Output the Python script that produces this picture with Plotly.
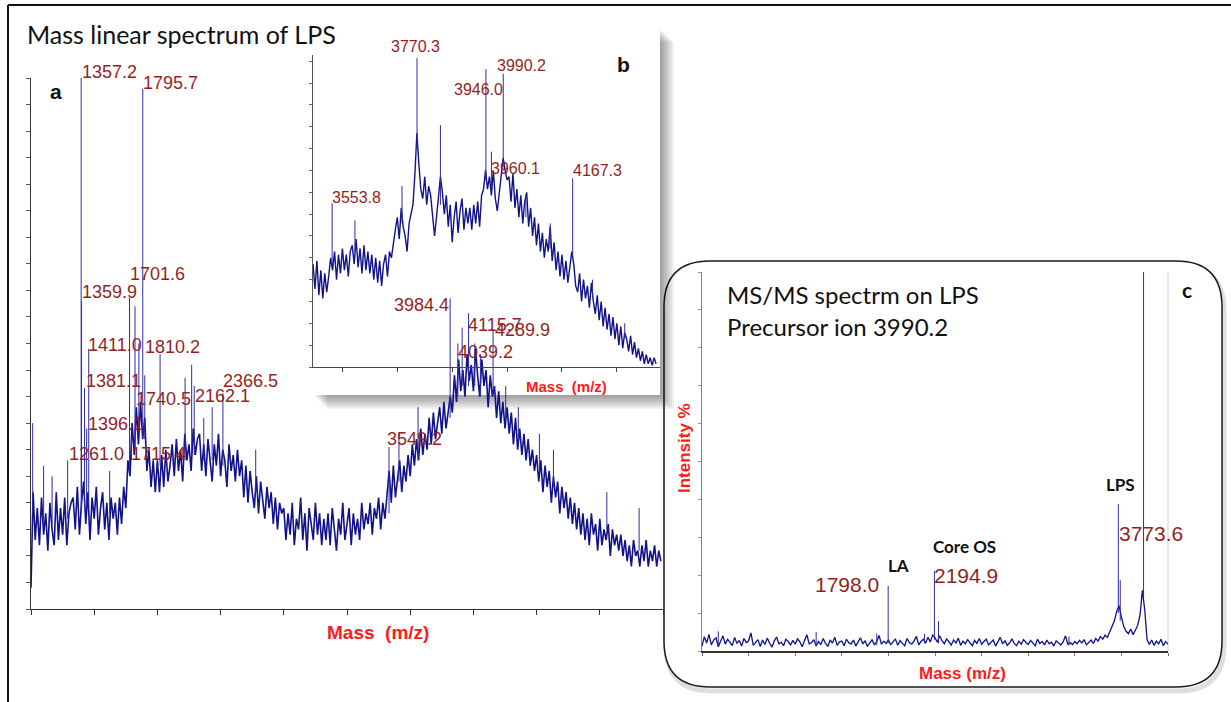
import plotly.graph_objects as go

W, H = 1231, 702

# ---------------- Panel a: linear-mode MS of LPS ----------------
A_MZ_START, A_MZ_STEP = 1000, 15
A_INTENSITY = [
    4, 22, 13, 19, 12, 21, 14, 18, 11, 20, 15, 12, 22, 13, 19, 14, 21, 12, 18, 20,
    21, 15, 23, 14, 20, 24, 16, 22, 13, 21, 17, 23, 14, 19, 22, 15, 20, 13, 21, 17,
    20, 14, 21, 16, 23, 19, 28, 25, 35, 29, 38, 31, 39, 32, 36, 26, 30, 23, 28, 22,
    28, 22, 29, 23, 30, 24, 27, 31, 25, 32, 26, 30, 24, 33, 28, 31, 26, 34, 29, 32,
    33, 26, 31, 25, 32, 28, 24, 31, 27, 33, 25, 30, 28, 23, 31, 26, 29, 24, 30, 25,
    28, 21, 27, 20, 26, 22, 19, 25, 18, 24, 21, 17, 23, 19, 22, 16, 21, 15, 20, 18,
    19, 13, 18, 14, 20, 12, 17, 15, 21, 13, 18, 11, 19, 16, 13, 20, 14, 18, 12, 17,
    13, 18, 12, 19, 15, 11, 17, 14, 20, 13, 16, 19, 12, 18, 14, 17, 13, 20, 15, 18,
    16, 20, 14, 19, 17, 21, 15, 20, 17, 22, 26, 20, 27, 21, 25, 28, 22, 27, 24, 29,
    25, 31, 27, 32, 28, 34, 29, 33, 30, 36, 31, 37, 32, 35, 38, 33, 39, 34, 37, 40,
    37, 44, 39, 47, 41, 45, 40, 48, 43, 46, 41, 49, 44, 40, 47, 42, 45, 38, 44, 40,
    42, 36, 41, 35, 39, 34, 38, 33, 37, 31, 36, 30, 34, 29, 33, 28, 32, 27, 30, 26,
    29, 24, 28, 22, 27, 23, 26, 20, 25, 21, 24, 18, 23, 19, 22, 17, 21, 16, 20, 15,
    19, 14, 18, 13, 17, 12, 18, 14, 16, 11, 17, 12, 15, 13, 16, 10, 15, 12, 14, 11,
    14, 10, 13, 9, 12, 8, 13, 10, 11, 8, 12, 9, 13, 8, 11, 9, 12, 8, 11, 9,
]
A_PEAK_MZ = [1012, 1090, 1150, 1261.0, 1357.2, 1359.9, 1381.1, 1396.1, 1411.0, 1560,
             1701.6, 1715.4, 1740.5, 1768, 1795.7, 1810.2, 1919, 2097, 2144, 2162.1,
             2230, 2290, 2366.5, 2600, 3549.2, 3620, 3756, 3984.4, 4039.2, 4070,
             4115.7, 4160, 4200, 4289.9, 4380, 4470, 4620, 4720, 5100, 5330]
A_PEAK_TOP = [35, 27, 25, 28, 100, 58, 41.6, 34, 49, 26,
              58.6, 32, 57, 50, 98, 44, 48, 43.5, 46, 42,
              36, 38, 40.7, 30, 30.5, 33, 38, 58.5, 50, 53,
              55.7, 50, 48, 52.5, 42, 38, 33, 30, 22, 19]
A_PEAK_FOOT = [18, 16, 16, 17, 18, 19, 19, 19, 19, 18,
               26, 28, 30, 33, 32, 32, 27, 28, 29, 29,
               28, 28, 27, 22, 18, 24, 28, 36, 40, 42,
               42, 42, 40, 40, 36, 32, 26, 23, 15, 11]
A_LABELED = [1261.0, 1357.2, 1359.9, 1381.1, 1396.1, 1411.0, 1701.6, 1715.4, 1740.5,
             1795.7, 1810.2, 2162.1, 2366.5, 3549.2, 3984.4, 4039.2, 4115.7, 4289.9]

# ---------------- Panel b: zoom on the LPS region ----------------
B_MZ_START, B_MZ_STEP = 3505, 5
B_INTENSITY = [
    33, 25, 34, 23, 31, 22, 30, 24, 29, 35, 31, 37, 28, 36, 30, 38, 31, 36, 29, 37,
    39, 33, 41, 32, 38, 30, 39, 31, 37, 30, 36, 28, 35, 27, 34, 26, 33, 36, 29, 37,
    35, 40, 44, 48, 41, 51, 45, 42, 37, 46, 49, 52, 62, 75, 65, 57, 54, 61, 52, 58,
    55, 47, 42, 48, 54, 61, 56, 49, 55, 45, 52, 40, 48, 53, 43, 50, 54, 44, 51, 46,
    51, 44, 52, 46, 53, 45, 55, 57, 63, 57, 61, 55, 63, 54, 50, 56, 61, 67, 63, 60,
    61, 53, 62, 51, 57, 48, 55, 46, 53, 56, 45, 51, 42, 48, 39, 46, 37, 43, 35, 41,
    37, 45, 34, 40, 31, 37, 29, 36, 28, 34, 27, 33, 37, 33, 26, 24, 30, 21, 28, 22,
    26, 19, 27, 21, 17, 23, 15, 21, 13, 19, 12, 17, 10, 16, 9, 14, 7, 13, 6, 11,
    9, 5, 10, 4, 8, 3, 6, 2, 5, 1, 4, 1, 3, 0.5, 3, 1,
]
B_PEAK_MZ = [3553.8, 3612, 3732, 3770.3, 3830, 3946.0, 3960.1, 3990.2, 4048, 4110,
             4167.3, 4218, 4300]
B_PEAK_TOP = [52.5, 47, 58, 99, 77.5, 95.5, 69, 94, 55, 46, 60.5, 28, 14]
B_PEAK_FOOT = [33, 37, 46, 70, 52, 60, 58, 64, 48, 38, 35, 22, 9]
B_LABELED = [3553.8, 3770.3, 3946.0, 3960.1, 3990.2, 4167.3]

# ---------------- Panel c: MS/MS of precursor 3990.2 ----------------
C_MZ_START, C_MZ_STEP = 200, 20
C_INTENSITY = [
    1.2, 3.8, 2.1, 4.4, 1.6, 2.9, 3.5, 1.1, 2.6, 4.0, 1.8, 3.1, 2.3, 1.4, 3.6, 2.0, 2.8, 1.3, 3.3, 2.2,
    2.7, 4.8, 1.5, 2.4, 3.0, 1.2, 2.9, 1.7, 3.4, 2.1, 1.0, 2.6, 3.7, 1.9, 2.3, 1.4, 3.1, 2.5, 1.6, 2.8,
    1.8, 3.2, 2.4, 1.1, 2.7, 4.3, 1.9, 2.2, 3.0, 1.3, 2.5, 1.7, 3.3, 2.0, 1.2, 2.9, 2.1, 3.6, 1.5, 2.4,
    2.6, 1.4, 3.1, 2.2, 1.8, 2.9, 1.3, 2.4, 3.5, 1.9, 2.7, 1.2, 2.3, 3.0, 1.6, 2.5, 4.1, 1.8, 2.6, 2.0,
    2.9, 1.7, 2.4, 3.2, 1.5, 2.8, 2.0, 1.4, 3.3, 2.2, 1.8, 2.6, 3.9, 1.6, 2.5, 3.1, 2.1, 3.6, 2.4, 4.2,
    3.5, 2.3, 4.0, 2.7, 1.9, 3.2, 2.4, 1.6, 2.9, 2.1, 3.4, 1.5, 2.6, 1.9, 3.0, 2.3, 1.4, 2.8, 2.0, 3.3,
    1.8, 2.5, 3.1, 1.6, 2.2, 2.9, 1.3, 2.4, 3.6, 1.9, 2.7, 1.5, 2.1, 3.2, 2.0, 1.4, 2.6, 1.8, 3.0, 2.3,
    1.7, 2.8, 2.2, 1.4, 3.1, 2.0, 2.5, 1.6, 2.9, 1.9, 2.3, 1.3, 2.7, 2.0, 1.6, 2.4, 4.0, 1.8, 2.2, 1.7,
    2.5, 1.9, 2.8, 2.1, 3.0, 1.6, 2.4, 2.9, 2.0, 3.3, 2.6, 3.8, 3.1, 4.2, 3.6, 5.0, 6.3, 8.0, 10.5, 12.0,
    9.0, 6.5, 5.2, 4.6, 5.8, 4.3, 5.5, 6.8, 9.5, 16.0, 11.0, 3.0, 1.7, 2.9, 1.5, 2.6, 1.9, 3.1, 1.4, 2.5,
    1.8,
]
C_PEAK_MZ = [340, 1180, 1700, 1798.0, 2110, 2194.9, 2230, 3350, 3773.6, 3790, 3990.2]
C_PEAK_TOP = [5.2, 5.0, 4.6, 17.2, 4.5, 21.1, 7.9, 3.8, 38.8, 18.7, 100]
C_PEAK_FOOT = [1.5, 1.5, 1.5, 2.0, 2.0, 3.0, 2.0, 1.5, 10.0, 8.0, 14.0]
C_LABELED = [1798.0, 2194.9, 3773.6]
C_NAMES = {1798.0: "LA", 2194.9: "Core OS", 3773.6: "LPS"}

# ---------------- styling ----------------
SPEC_COLOR = "#12128a"
PEAK_COLOR = "#2c2ca8"
LABEL_RED = "#951f1f"
AXIS_RED = "#ff1a1a"

# label placement: (xanchor, xshift px, yshift px) relative to the peak apex
A_LABEL_POS = {
    1261.0: ("left", 1, 6), 1357.2: ("left", 1, 6), 1359.9: ("left", 0, 9),
    1381.1: ("left", 1, 7), 1396.1: ("left", 1, 4), 1411.0: ("left", -1, 4),
    1701.6: ("left", 0, 24), 1715.4: ("left", 0, -15), 1740.5: ("left", 1, -93),
    1795.7: ("left", 0, 6), 1810.2: ("left", 0, 28), 2162.1: ("left", 1, -10),
    2366.5: ("left", 0, 12), 3549.2: ("left", -2, 8), 3984.4: ("right", -1, -7),
    4039.2: ("left", 0, -8), 4115.7: ("left", -1, -12), 4289.9: ("left", 2, 0),
}
B_LABEL_POS = {
    3553.8: ("left", 0, 6), 3770.3: ("center", -2, 12), 3946.0: ("right", 17, -20),
    3960.1: ("left", 0, -17), 3990.2: ("left", -6, 8), 4167.3: ("left", 0, 8),
}
C_LABEL_POS = {1798.0: ("right", -9, 1), 2194.9: ("left", 0, -4), 3773.6: ("left", 1, -30)}
C_NAME_POS = {1798.0: (10, 20), 2194.9: (30, 25), 3773.6: (2, 19)}


def px(x):
    return x / W


def py(y):
    return 1 - y / H


def mz_axis(start, step, n):
    return [start + step * i for i in range(n)]


def stick_xy(mzs, tops, feet):
    xs, ys = [], []
    for m, t, f in zip(mzs, tops, feet):
        xs += [m, m, None]
        ys += [f, t, None]
    return xs, ys


fig = go.Figure()

panels = [
    ("x", "y", A_MZ_START, A_MZ_STEP, A_INTENSITY, A_PEAK_MZ, A_PEAK_TOP, A_PEAK_FOOT, 1.6),
    ("x2", "y2", B_MZ_START, B_MZ_STEP, B_INTENSITY, B_PEAK_MZ, B_PEAK_TOP, B_PEAK_FOOT, 1.4),
    ("x3", "y3", C_MZ_START, C_MZ_STEP, C_INTENSITY, C_PEAK_MZ, C_PEAK_TOP, C_PEAK_FOOT, 1.3),
]
for xa, ya, s0, ds, inten, pmz, ptop, pfoot, lw in panels:
    fig.add_trace(go.Scatter(x=mz_axis(s0, ds, len(inten)), y=inten, mode="lines",
                             line=dict(color=SPEC_COLOR, width=lw), xaxis=xa, yaxis=ya,
                             hoverinfo="skip", showlegend=False))
    sx, sy = stick_xy(pmz, ptop, pfoot)
    fig.add_trace(go.Scatter(x=sx, y=sy, mode="lines", line=dict(color=PEAK_COLOR, width=1),
                             xaxis=xa, yaxis=ya, hoverinfo="skip", showlegend=False,
                             connectgaps=False))

annotations = []


def peak_labels(labeled, mzs, tops, pos, xref, yref, size):
    for m in labeled:
        top = tops[mzs.index(m)]
        anchor, dx, dy = pos[m]
        annotations.append(dict(x=m, y=top, xref=xref, yref=yref, text=f"{m:.1f}",
                                showarrow=False, xanchor=anchor, yanchor="middle",
                                xshift=dx, yshift=dy, borderpad=0, borderwidth=0,
                                font=dict(family="Liberation Sans, Arial", size=size,
                                          color=LABEL_RED)))


peak_labels(A_LABELED, A_PEAK_MZ, A_PEAK_TOP, A_LABEL_POS, "x", "y", 18)
peak_labels(B_LABELED, B_PEAK_MZ, B_PEAK_TOP, B_LABEL_POS, "x2", "y2", 16)
peak_labels(C_LABELED, C_PEAK_MZ, C_PEAK_TOP, C_LABEL_POS, "x3", "y3", 21)

for m, name in C_NAMES.items():
    dx, dy = C_NAME_POS[m]
    annotations.append(dict(x=m, y=C_PEAK_TOP[C_PEAK_MZ.index(m)], xref="x3", yref="y3",
                            text=f"<b>{name}</b>", showarrow=False, xanchor="center",
                            yanchor="middle", xshift=dx, yshift=dy,
                            font=dict(family="Lato", size=17, color="#111111")))


def paper_text(x, y, text, size, family, color="#111111", xanchor="left", angle=0):
    annotations.append(dict(x=px(x), y=py(y), xref="paper", yref="paper", text=text,
                            showarrow=False, xanchor=xanchor, yanchor="middle",
                            textangle=angle, borderpad=0, borderwidth=0,
                            font=dict(family=family, size=size, color=color)))


paper_text(27, 34, "Mass linear spectrum of LPS", 25, "Lato")
paper_text(727, 294, "MS/MS spectrm on LPS", 24, "Lato")
paper_text(727, 326, "Precursor ion 3990.2", 24, "Lato")
paper_text(56, 91, "<b>a</b>", 21, "Liberation Sans, Arial", xanchor="center")
paper_text(623, 65, "<b>b</b>", 21, "Liberation Sans, Arial", xanchor="center")
paper_text(1187, 289, "<b>c</b>", 21, "Lato", xanchor="center")
paper_text(378, 632, "<b>Mass  (m/z)</b>", 19, "Liberation Sans, Arial", AXIS_RED, "center")
paper_text(566, 386, "<b>Mass  (m/z)</b>", 15, "Liberation Sans, Arial", AXIS_RED, "center")
paper_text(963, 673, "<b>Mass (m/z)</b>", 17, "Liberation Sans, Arial", AXIS_RED, "center")
paper_text(684, 448, "<b>Intensity %</b>", 17, "Liberation Sans, Arial", AXIS_RED,
           "center", angle=-90)

# ---------------- frames, inset box and shadows ----------------
shapes = []


def rect(x0, y0, x1, y1, fill, line_color=None, line_width=0):
    shapes.append(dict(type="rect", xref="paper", yref="paper", layer="below",
                       x0=px(x0), y0=py(y1), x1=px(x1), y1=py(y0), fillcolor=fill,
                       line=dict(color=line_color or fill, width=line_width)))


def rounded_path(x0, y0, x1, y1, r):
    rx, ry = r / W, r / H
    X0, X1, Y0, Y1 = px(x0), px(x1), py(y0), py(y1)
    return (f"M {X0 + rx},{Y0} L {X1 - rx},{Y0} Q {X1},{Y0} {X1},{Y0 - ry} "
            f"L {X1},{Y1 + ry} Q {X1},{Y1} {X1 - rx},{Y1} L {X0 + rx},{Y1} "
            f"Q {X0},{Y1} {X0},{Y1 + ry} L {X0},{Y0 - ry} Q {X0},{Y0} {X0 + rx},{Y0} Z")


# outer frame
shapes.append(dict(type="line", xref="paper", yref="paper", layer="below",
                   x0=px(8), y0=py(5), x1=px(1231), y1=py(5), line=dict(color="#111", width=2)))
shapes.append(dict(type="line", xref="paper", yref="paper", layer="below",
                   x0=px(8), y0=py(5), x1=px(8), y1=py(702), line=dict(color="#111", width=2)))

# panel c rounded box with soft shadow
shapes.append(dict(type="path", xref="paper", yref="paper", layer="below",
                   path=rounded_path(666, 265, 1224, 691, 46),
                   line=dict(color="rgba(0,0,0,0.13)", width=5)))
shapes.append(dict(type="path", xref="paper", yref="paper", layer="below",
                   path=rounded_path(664, 261, 1222, 687, 46), fillcolor="white",
                   line=dict(color="#1a1a1a", width=1.5)))
# faint right edge of the MS/MS plotting area
shapes.append(dict(type="line", xref="paper", yref="paper", layer="below",
                   x0=px(1168), y0=py(651), x1=px(1168), y1=py(272),
                   line=dict(color="#d0d0d0", width=1)))

# inset b: blurred drop shadow, then white card
for k in range(1, 8):
    rect(313 + 2 * k, 28 + 2 * k, 660 + 2 * k, 395 + 2 * k, "rgba(0,0,0,0.06)")
rect(313, 28, 660, 395, "white")

fig.update_layout(
    width=W, height=H, margin=dict(l=0, r=0, t=0, b=0),
    paper_bgcolor="white", plot_bgcolor="rgba(0,0,0,0)",
    showlegend=False, shapes=shapes, annotations=annotations,
)

common = dict(showgrid=False, zeroline=False, showticklabels=False, ticks="outside",
              showline=True, mirror=False, fixedrange=True)
fig.update_layout(
    xaxis=dict(domain=[px(31), px(663)], range=[1000, 5500], anchor="y", tick0=1000,
               dtick=450, ticklen=5, tickcolor="#333", linecolor="#333", linewidth=1, **common),
    yaxis=dict(domain=[py(609), py(78)], range=[0, 100], anchor="x", tick0=0, dtick=5,
               ticklen=4, tickcolor="#555", linecolor="#333", linewidth=1, **common),
    xaxis2=dict(domain=[px(313), px(660)], range=[3505, 4390], anchor="y2", tick0=3580,
                dtick=140, ticklen=4, tickcolor="#444", linecolor="#444", linewidth=1, **common),
    yaxis2=dict(domain=[py(367), py(55)], range=[0, 100], anchor="x2", tick0=0, dtick=7,
                ticklen=3, tickcolor="#666", linecolor="#555", linewidth=1, **common),
    xaxis3=dict(domain=[px(702), px(1168)], range=[200, 4200], anchor="y3", tick0=200,
                dtick=400, ticklen=3, tickcolor="#777", linecolor="#333", linewidth=2, **common),
    yaxis3=dict(domain=[py(651), py(272)], range=[0, 100], anchor="x3", tick0=0, dtick=10,
                ticklen=3, tickcolor="#999", linecolor="#888", linewidth=1, **common),
)

fig.write_html("out.html")
